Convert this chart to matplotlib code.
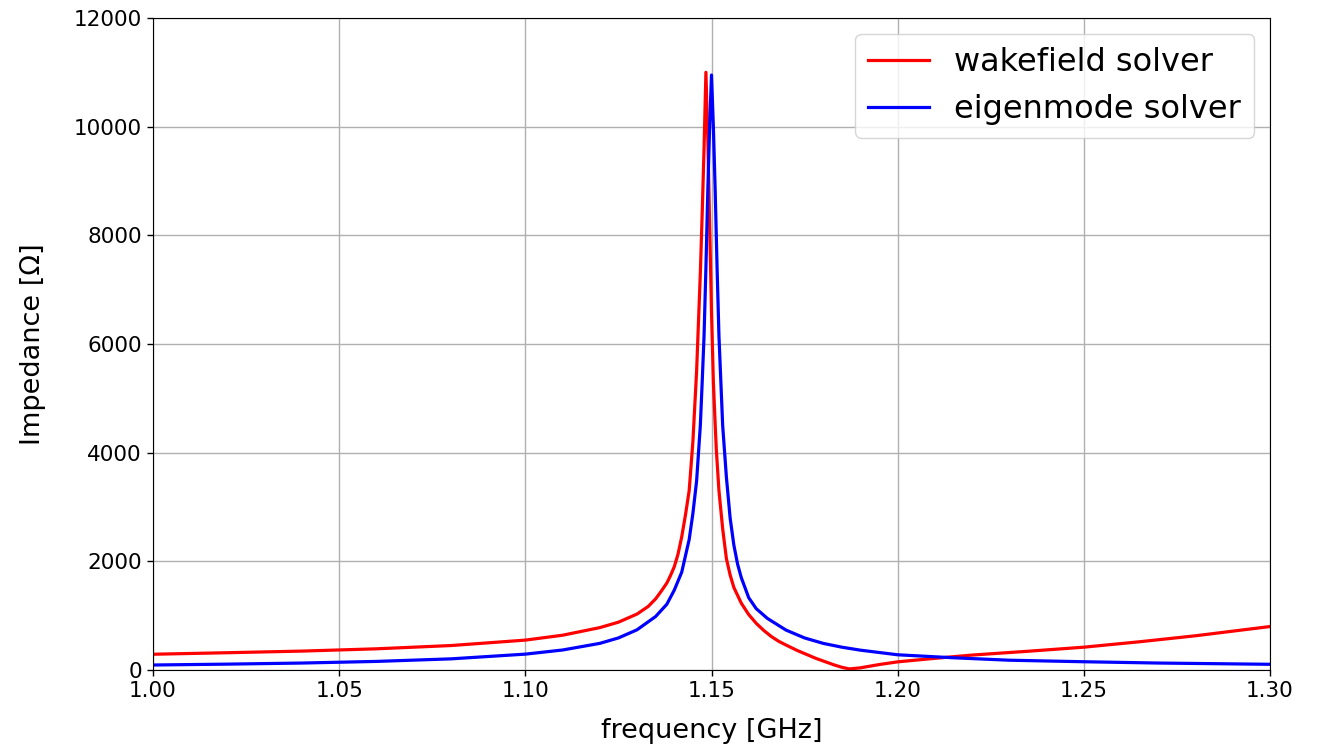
import matplotlib
matplotlib.use("Agg")
import matplotlib.pyplot as plt

# wakefield solver (red)
freq_wake = [1.000, 1.020, 1.040, 1.060, 1.080, 1.100, 1.110, 1.120, 1.125, 1.130,
             1.133, 1.135, 1.1365, 1.138, 1.139, 1.140, 1.141, 1.142, 1.143, 1.144,
             1.145, 1.146, 1.147, 1.1475, 1.148, 1.1485,
             1.149, 1.1495, 1.150, 1.1505, 1.151, 1.1513, 1.152, 1.153, 1.154, 1.155,
             1.156, 1.158, 1.160, 1.162, 1.164, 1.166, 1.168, 1.170, 1.173, 1.178,
             1.183, 1.185, 1.187, 1.190, 1.195, 1.200, 1.210, 1.220, 1.235,
             1.250, 1.265, 1.280, 1.300]
z_wake = [290, 318, 348, 390, 450, 550, 640, 780, 880, 1030,
          1170, 1310, 1450, 1600, 1740, 1900, 2130, 2450, 2850, 3300,
          4200, 5500, 7300, 8400, 9600, 11000,
          9800, 8200, 6600, 5300, 4500, 4050, 3300, 2600, 2050, 1750,
          1520, 1230, 1020, 860, 730, 620, 530, 460, 360, 215,
          92, 50, 20, 40, 100, 150, 215, 275, 345,
          420, 520, 630, 800]

# eigenmode solver (blue)
freq_eig = [1.000, 1.020, 1.040, 1.060, 1.080, 1.100, 1.110, 1.120, 1.125, 1.130,
            1.135, 1.138, 1.140, 1.142, 1.143, 1.144, 1.145, 1.146, 1.147, 1.1475,
            1.148, 1.1485, 1.149, 1.1495, 1.150, 1.1505, 1.151, 1.1515, 1.152, 1.153,
            1.154, 1.155, 1.156, 1.157, 1.158, 1.160, 1.162, 1.165, 1.170, 1.175,
            1.180, 1.185, 1.190, 1.200, 1.215, 1.230, 1.250, 1.270, 1.300]
z_eig = [92, 108, 128, 158, 205, 292, 368, 490, 590, 740,
         985, 1210, 1470, 1800, 2100, 2400, 2880, 3480, 4500, 5300,
         6150, 7400, 8800, 10000, 10950, 10000, 8800, 7400, 6150, 4500,
         3550, 2800, 2300, 1950, 1700, 1330, 1130, 950, 735, 590,
         490, 420, 365, 280, 225, 180, 152, 128, 105]

x_ticks = [1.00, 1.05, 1.10, 1.15, 1.20, 1.25, 1.30]
y_ticks = [0, 2000, 4000, 6000, 8000, 10000, 12000]

fig = plt.figure(figsize=(13.22, 7.45), dpi=100)
ax = fig.add_axes([153 / 1322, 1 - 670 / 745, (1270 - 153) / 1322, (670 - 18) / 745])

ax.plot(freq_wake, z_wake, color="red", lw=2.3, label="wakefield solver")
ax.plot(freq_eig, z_eig, color="blue", lw=2.3, label="eigenmode solver")

ax.set_xlim(1.0, 1.3)
ax.set_ylim(0, 12000)
ax.set_xticks(x_ticks)
ax.set_xticklabels([f"{t:.2f}" for t in x_ticks])
ax.set_yticks(y_ticks)
ax.tick_params(labelsize=15.5, length=4.5, width=1)
ax.grid(True, color="#b0b0b0", lw=1)
ax.set_xlabel("frequency [GHz]", fontsize=19.5, labelpad=12)
ax.set_ylabel("Impedance [Ω]", fontsize=19.5, labelpad=20)
ax.legend(loc="upper right", fontsize=23, handlelength=1.9, handletextpad=0.8)

fig.savefig("out.png", dpi=100)
